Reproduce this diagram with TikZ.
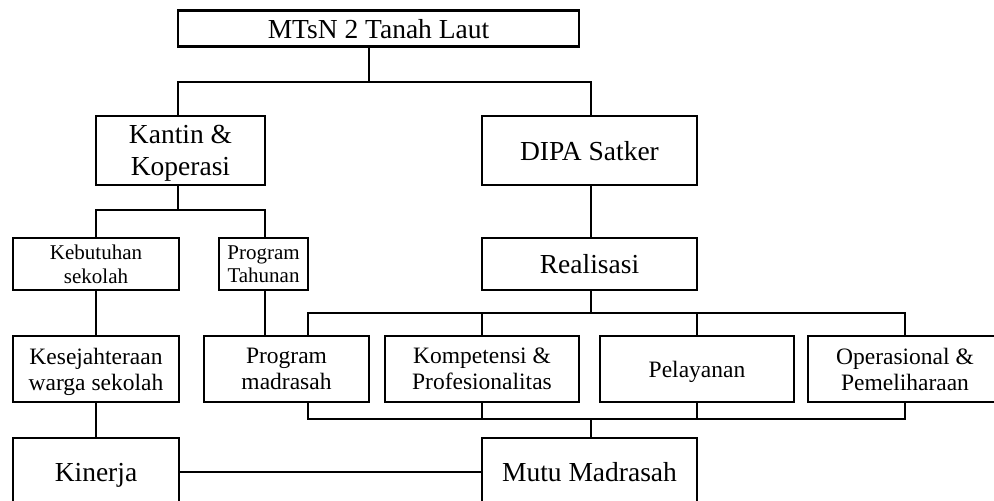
\documentclass[tikz,border=0pt]{standalone}
\usepackage{fontspec}
\setmainfont{Liberation Serif}
\begin{document}
\begin{tikzpicture}[x=1pt,y=-1pt,
  box/.style={draw=black, line width=2.2pt, fill=white, inner sep=0pt, align=center, anchor=center, text depth=0pt},
  big/.style={font=\fontsize{27.5}{32}\selectfont},
  mid/.style={font=\fontsize{23.5}{26.3}\selectfont},
  small/.style={font=\fontsize{21}{23.5}\selectfont},
  conn/.style={draw=black, line width=2.2pt}]
\useasboundingbox (0,0) rectangle (994,501);
\clip (0,0) rectangle (994,501);
% nodes (center at box centers; sizes from box extents)
\node[box, big, minimum width=401pt, minimum height=36pt] (top) at (378.5,28.5) {MTsN 2 Tanah Laut};
\node[box, big, minimum width=169pt, minimum height=69pt] (kantin) at (180.5,150.5) {Kantin \&\\Koperasi};
\node[box, big, minimum width=215pt, minimum height=69pt] (dipa) at (589.5,150.5) {DIPA Satker};
\node[box, small, minimum width=166pt, minimum height=52pt] (keb) at (96,264) {Kebutuhan\\sekolah};
\node[box, small, minimum width=89pt, minimum height=52pt] (prt) at (263.5,264) {Program\\Tahunan};
\node[box, big, minimum width=215pt, minimum height=52pt] (real) at (589.5,264) {Realisasi};
\node[box, mid, minimum width=166pt, minimum height=66pt] (kes) at (96,369) {Kesejahteraan\\warga sekolah};
\node[box, mid, minimum width=165pt, minimum height=66pt] (pm) at (286.5,369) {Program\\madrasah};
\node[box, mid, minimum width=194pt, minimum height=66pt] (komp) at (482,369) {Kompetensi \&\\Profesionalitas};
\node[box, mid, minimum width=194pt, minimum height=66pt] (pel) at (697,369) {Pelayanan};
\node[box, mid, minimum width=194pt, minimum height=66pt] (ops) at (905,369) {Operasional \&\\Pemeliharaan};
\node[box, big, minimum width=166pt, minimum height=68pt] (kin) at (96,472) {Kinerja};
\node[box, big, minimum width=215pt, minimum height=68pt] (mutu) at (589.5,472) {Mutu Madrasah};
% bus coordinates
\coordinate (b1) at (369,82);
\coordinate (b2) at (178,210);
\coordinate (b3) at (591,313);
\coordinate (b4) at (591,419);
\coordinate (pmx) at (308,313);
% connectors
\draw[conn] (top.south -| b1) -- (b1);
\draw[conn] (kantin.north -| 178,0) |- (b1) -| (dipa.north -| 591,0);
\draw[conn] (kantin.south -| b2) -- (b2);
\draw[conn] (keb.north) |- (b2) -| (prt.north -| 265,0);
\draw[conn] (dipa.south -| b3) -- (real.north -| b3);
\draw[conn] (real.south -| b3) -- (b3);
\draw[conn] (keb.south) -- (kes.north);
\draw[conn] (prt.south -| 265,0) -- (pm.north -| 265,0);
\draw[conn] (pm.north -| pmx) |- (b3) -| (ops.north);
\draw[conn] (komp.north) -- (komp.north |- b3);
\draw[conn] (pel.north) -- (pel.north |- b3);
\draw[conn] (pm.south -| pmx) |- (b4) -| (ops.south);
\draw[conn] (komp.south) -- (komp.south |- b4);
\draw[conn] (pel.south) -- (pel.south |- b4);
\draw[conn] (b4) -- (mutu.north -| b4);
\draw[conn] (kes.south) -- (kin.north);
\draw[conn] (kin.east) -- (mutu.west);
\end{tikzpicture}
\end{document}
